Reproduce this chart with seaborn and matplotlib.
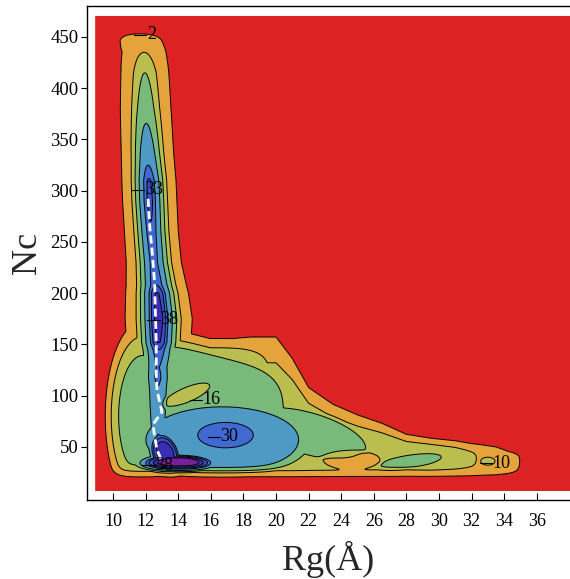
import numpy as np
import pandas as pd
import matplotlib
matplotlib.use("Agg")
import matplotlib.pyplot as plt
import seaborn as sns

# ---------------- contour levels & colours ----------------
levels = [-1, 2, 10, 16, 23, 30, 33, 36, 38, 45]
fill_colors = ["#DC2222", "#E5A33B", "#B9BE4F", "#79B97A", "#4E9AC4",
               "#4069D4", "#3B4FCB", "#3A2DB5", "#7A1E9B"]

# ---------------- vertical ridge (along Nc) ----------------
ridge_nc = [15, 26, 40, 55, 70, 90, 105, 118, 128, 138, 145, 152, 175, 200, 208,
            230, 260, 290, 310, 325, 340, 380, 415, 435, 447, 453, 458]
ridge_rg = [13.3, 13.2, 12.95, 12.8, 12.75, 12.75, 12.75, 12.75, 12.75, 12.8, 12.8, 12.8,
            12.8, 12.7, 12.65, 12.5, 12.35, 12.25, 12.2, 12.15, 12.1, 12.0, 11.95,
            11.9, 11.7, 11.65, 11.65]
ridge_peak = [0, 28, 30, 31, 29, 29, 29.5, 31, 30.2, 31.5, 33, 36.2, 37.8, 36.3, 33,
              31.5, 32.5, 34, 33.4, 30, 27.5, 20.5, 16, 10, 6, 2, 0]
ridge_sigma = [0.8, 0.8, 0.7, 0.6, 0.6, 0.7, 0.72, 0.75, 0.75, 0.78, 0.8, 0.82, 0.85,
               0.8, 0.78, 0.72, 0.7, 0.7, 0.7, 0.7, 0.7, 0.72, 0.72, 0.75, 0.85, 0.95, 0.95]

# ---------------- horizontal tail (along Rg) ----------------
tail_rg = [15.0, 17.0, 18.5, 20.0, 21.0, 22.0, 23.5, 25.0, 26.5, 28.0, 29.5, 31.0, 32.0,
           32.5, 33.5, 34.3, 34.9, 35.5]
tail_center = [50, 50, 50, 50, 48, 45, 42, 40, 38, 36, 35, 34, 33, 33, 33, 33, 33, 33]
tail_peak = [0, 12, 15, 15, 15, 14.5, 14, 13.5, 13.5, 13.5, 14, 12.5, 10.8, 9.5, 8,
             5.5, 2.2, 0]
tail_width = [85, 85, 85, 85, 70, 50, 39.5, 33, 28, 21, 18.7, 17.7, 16.5, 16, 14.3, 11, 10, 10]

# ---------------- basins: centre, half-axes, depth, tilt, shape ----------------
basin_names = ["corner_rim", "corner_green", "left_shoulder", "teal", "island30",
               "core38", "core_tongue", "green_tongue", "tail_island", "tail_spot"]
basin_rg = [15.5, 16.2, 11.8, 16.7, 16.9, 14.0, 13.2, 22.0, 28.2, 33.0]
basin_nc = [110, 88, 80, 57, 61.5, 34, 44, 63, 35.5, 36]
basin_arg = [4.3, 4.6, 1.9, 5.4, 2.2, 2.3, 1.0, 4.0, 2.33, 0.5]
basin_anc = [38.6, 55, 77, 37, 16, 9, 20, 24, 7.8, 4.5]
basin_peak = [14, 21, 17, 27, 32, 40.5, 37.5, 19, 18, 12]
basin_tilt = [0, -4, 0, 0, 0, 0, -6, -4, 2.3, 0]
basin_p = [4, 4, 2, 2, 2, 2, 2, 2, 2, 2]
basin_q = [8, 8, 8, 8, 8, 4, 4, 8, 8, 8]

# local dips (yellow-green island, orange intrusion)
dip_rg = [14.55, 24.6]
dip_nc = [101, 37.5]
dip_arg = [1.45, 1.7]
dip_anc = [8, 8.5]
dip_depth = [7, 7]
dip_tilt = [6, 0]

# ---------------- minimum free-energy path ----------------
path_rg = [12.15, 12.25, 12.4, 12.55, 12.6, 12.65, 12.65, 12.7, 13.0, 12.45, 12.55, 12.7, 13.0]
path_nc = [292, 265, 240, 210, 180, 150, 120, 105, 84, 72, 60, 47, 36]

# ---------------- contour labels ----------------
label_values = [2, 33, 38, 16, 30, 38, 10]
label_rg = [12.1, 11.95, 12.9, 15.5, 16.6, 12.6, 33.3]
label_nc = [452, 301, 174, 96, 60, 32, 34]

x_ticks = list(range(10, 37, 2))
y_ticks = list(range(50, 451, 50))


def shape(X, Y, cx, cy, ax_, ay_, peak, tilt, p, q):
    dx = (X - cx) / ax_
    dy = (Y - (cy + tilt * (X - cx))) / ay_
    r = (np.abs(dx) ** p + np.abs(dy) ** p) ** (1.0 / p)
    return peak * np.exp(-0.5 * r ** q)


xg = np.linspace(8.9, 38.04, 700)
yg = np.linspace(7, 470.5, 900)
X, Y = np.meshgrid(xg, yg)

c = np.interp(Y, ridge_nc, ridge_rg)
P = np.interp(Y, ridge_nc, ridge_peak)
s = np.interp(Y, ridge_nc, ridge_sigma)
V = P * np.exp(-0.5 * ((X - c) / s) ** 2)

Q = np.interp(X, tail_rg, tail_peak)
d = np.interp(X, tail_rg, tail_center)
t = np.interp(X, tail_rg, tail_width)
H = Q * np.exp(-0.5 * np.abs((Y - d) / t) ** 6)

F = np.maximum(V, H)
for i in range(len(basin_names)):
    F = np.maximum(F, shape(X, Y, basin_rg[i], basin_nc[i], basin_arg[i], basin_anc[i],
                            basin_peak[i], basin_tilt[i], basin_p[i], basin_q[i]))
for i in range(len(dip_rg)):
    F = F - shape(X, Y, dip_rg[i], dip_nc[i], dip_arg[i], dip_anc[i],
                  dip_depth[i], dip_tilt[i], 2, 8)
F = F / (1 + np.exp(-(Y - 25.2) / 2.3))

# ---------------- plotting ----------------
sns.set_theme(style="ticks")
plt.rcParams["font.family"] = ["Liberation Serif", "DejaVu Serif"]

fig = plt.figure(figsize=(5.70, 5.79), dpi=100)
ax = fig.add_axes([87 / 570, 79 / 579, 483 / 570, 494 / 579])

ax.contourf(X, Y, F, levels=levels, colors=fill_colors, antialiased=True)
ax.contour(X, Y, F, levels=levels[1:-1], colors="black", linewidths=0.7)

path_df = pd.DataFrame({"Rg": path_rg, "Nc": path_nc})
sns.lineplot(data=path_df, x="Rg", y="Nc", sort=False, estimator=None, ax=ax,
             color="white", linewidth=2.0, linestyle=(0, (2.9, 1.5)))

for v, lx, ly in zip(label_values, label_rg, label_nc):
    ax.plot([lx - 0.8, lx - 0.05], [ly, ly], color="black", lw=0.8)
    ax.text(lx, ly, str(v), ha="left", va="center", fontsize=13, color="black")

ax.set_xlim(8.4, 38.04)
ax.set_ylim(-1.8, 480.2)
ax.set_xticks(x_ticks)
ax.set_yticks(y_ticks)
ax.tick_params(axis="x", direction="in", length=5, width=0.8, pad=9, labelsize=13,
               colors="black")
ax.tick_params(axis="y", direction="out", length=4, width=0.8, pad=2, labelsize=13.5,
               colors="black")
for side in ["left", "bottom", "top"]:
    ax.spines[side].set_color("black")
    ax.spines[side].set_linewidth(1.0)
ax.spines["right"].set_visible(False)

ax.set_xlabel("Rg(Å)", fontsize=26, labelpad=8)
ax.set_ylabel("Nc", fontsize=26, labelpad=5)

fig.savefig("out.png", dpi=100)
